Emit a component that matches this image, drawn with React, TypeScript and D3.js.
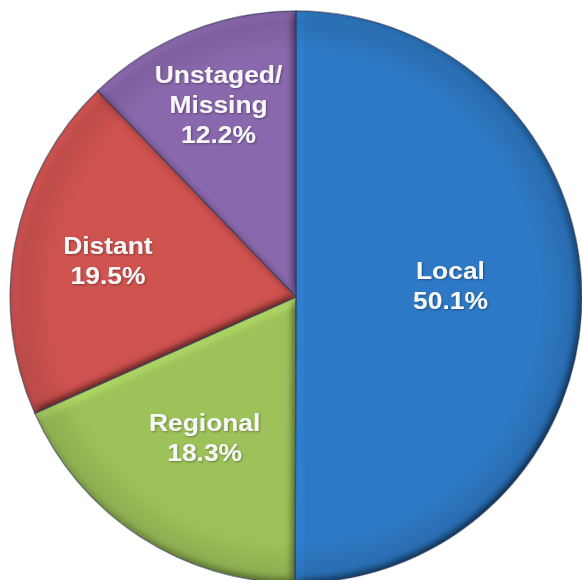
import React from 'react';
import * as d3 from 'd3';

const categories = ['Local', 'Regional', 'Distant', 'Unstaged/Missing'];
const nameLines = [['Local'], ['Regional'], ['Distant'], ['Unstaged/', 'Missing']];
const values = [50.1, 18.3, 19.5, 12.2];
const colors = ['#2D79C5', '#9DC25A', '#CF524F', '#8A68AD'];

// label placement (fraction of radius along slice mid-angle, plus vertical nudge)
const labelRadius = [0.54, 0.585, 0.67, 0.725];
const labelDy = [-12, 0, 0, 0];

export default function App() {
  const W = 582, H = 580;
  const cx = 296, cy = 297, r = 286;
  const lineH = 30;

  const pie = d3.pie<number>().sort(null).value((d) => d).startAngle(0).endAngle(2 * Math.PI);
  const arcs = pie(values);
  const arc = d3.arc<d3.PieArcDatum<number>>().innerRadius(0).outerRadius(r);

  return (
    <svg width={W} height={H} style={{ position: 'absolute', left: 0, top: 0 }}>
      <defs>
        <filter id="bevel" x="-10%" y="-10%" width="120%" height="120%">
          <feGaussianBlur in="SourceAlpha" stdDeviation="4" result="blur" />
          <feDiffuseLighting in="blur" surfaceScale="5" diffuseConstant="1" lightingColor="#ffffff" result="diff">
            <feDistantLight azimuth={225} elevation={55} />
          </feDiffuseLighting>
          <feComposite in="SourceGraphic" in2="diff" operator="arithmetic" k1={1.22} k2={0} k3={0} k4={0} result="lit" />
          <feComposite in="lit" in2="SourceAlpha" operator="in" />
        </filter>
        <filter id="tshadow" x="-20%" y="-20%" width="140%" height="140%">
          <feDropShadow dx="1" dy="1" stdDeviation="1" floodColor="#000" floodOpacity="0.35" />
        </filter>
        <radialGradient id="rim" cx="0.5" cy="0.5" r="0.5">
          <stop offset="0.85" stopColor="#000" stopOpacity="0" />
          <stop offset="1" stopColor="#000" stopOpacity="0.12" />
        </radialGradient>
      </defs>
      <g transform={`translate(${cx},${cy})`}>
        {arcs.map((a, i) => (
          <path key={categories[i]} d={arc(a) || ''} fill={colors[i]} filter="url(#bevel)" />
        ))}
        <circle r={r} fill="url(#rim)" />
        {arcs.map((a, i) => (
          <path key={'s' + i} d={arc(a) || ''} fill="none" stroke="#2b3550" strokeOpacity={0.55} strokeWidth={1.3} />
        ))}
        {arcs.map((a, i) => {
          const mid = (a.startAngle + a.endAngle) / 2;
          const lr = labelRadius[i] * r;
          const x = lr * Math.sin(mid);
          const y = -lr * Math.cos(mid) + labelDy[i];
          const lines = [...nameLines[i], `${values[i].toFixed(1)}%`];
          const n = lines.length;
          return (
            <g key={'l' + i} transform={`translate(${x},${y})`} filter="url(#tshadow)">
              {lines.map((t, j) => (
                <text
                  key={j}
                  transform={`translate(0,${(j - (n - 1) / 2) * lineH + 8.5}) scale(1.1,1)`}
                  textAnchor="middle"
                  fontFamily="'Liberation Sans', Arial, sans-serif"
                  fontWeight="bold"
                  fontSize={24}
                  fill="#F7F7F7"
                >
                  {t}
                </text>
              ))}
            </g>
          );
        })}
      </g>
    </svg>
  );
}
